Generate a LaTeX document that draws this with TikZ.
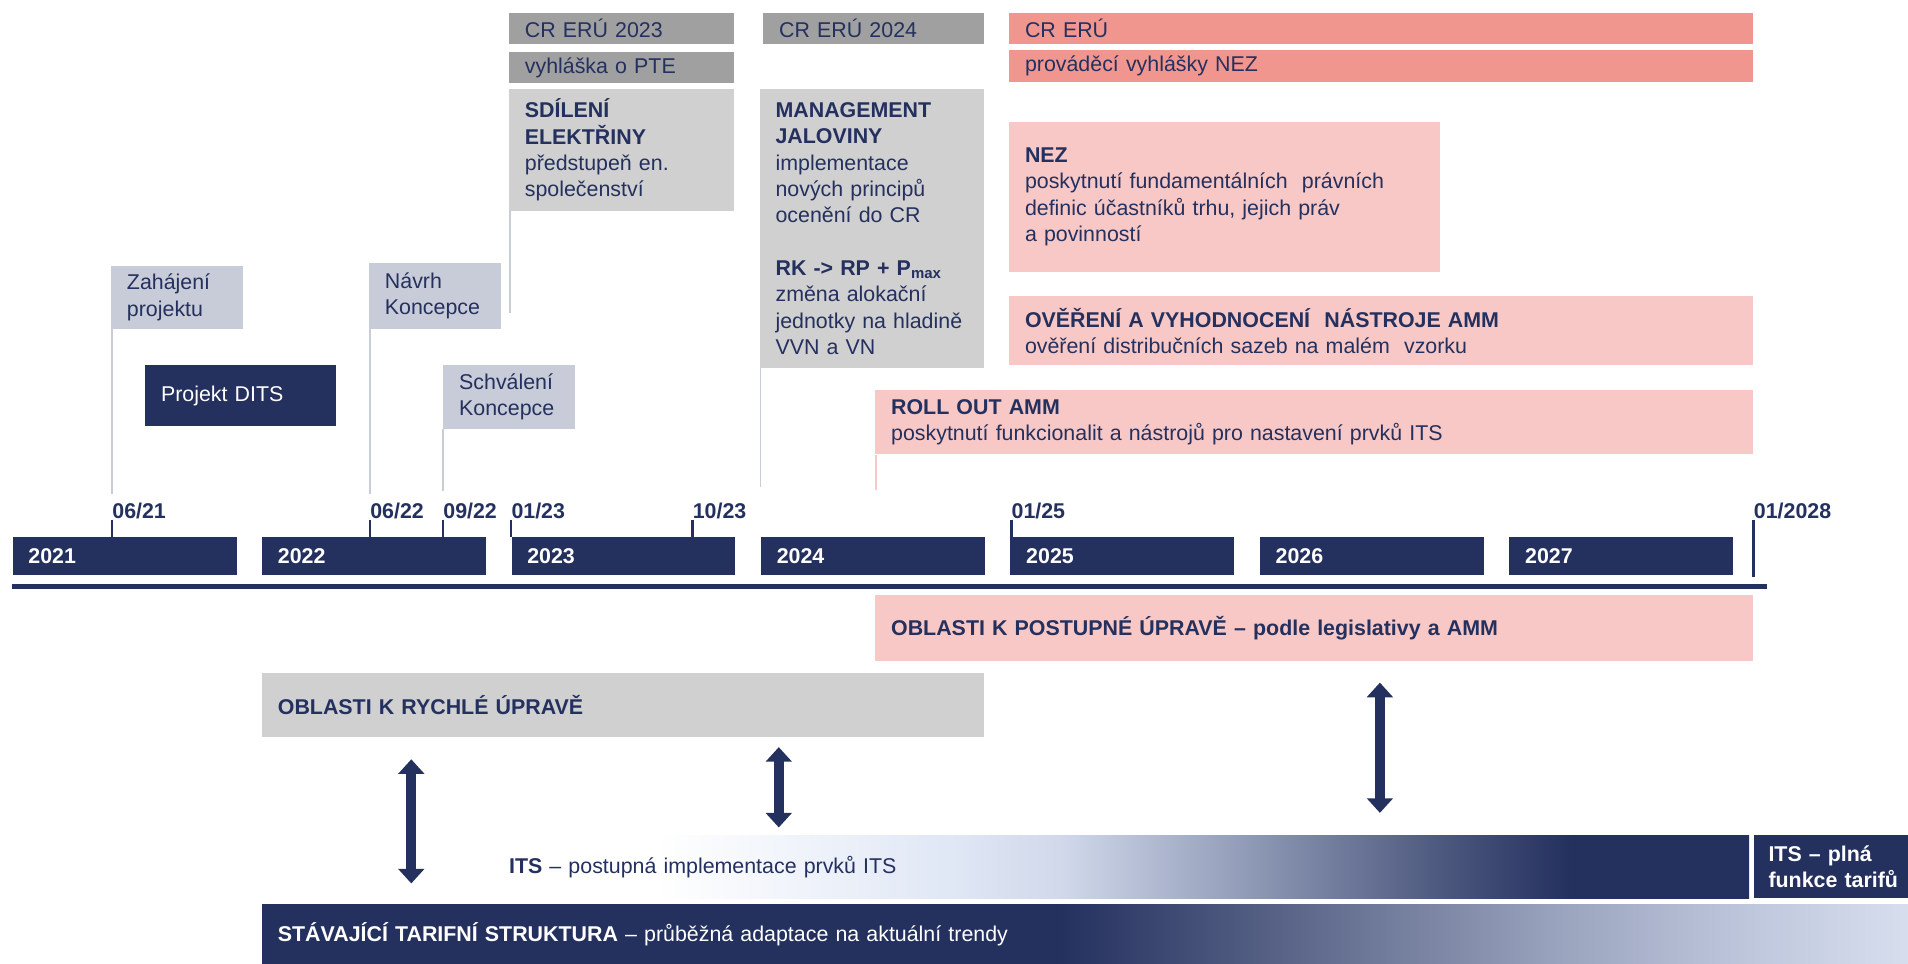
\documentclass[tikz,border=0pt]{standalone}
\usepackage{fontspec}
\setmainfont{Liberation Sans}
\usetikzlibrary{arrows.meta}

\definecolor{tnavy}{RGB}{36,48,94}
\definecolor{tdgrey}{RGB}{160,160,160}
\definecolor{tlgrey}{RGB}{208,208,208}
\definecolor{tbgrey}{RGB}{200,204,216}
\definecolor{tsalmon}{RGB}{240,150,143}
\definecolor{tpink}{RGB}{247,200,198}
\definecolor{tguide}{RGB}{200,204,212}
\definecolor{fadeA}{RGB}{224,231,245}
\definecolor{fadeB}{RGB}{208,216,234}
\definecolor{fadeC}{RGB}{143,154,182}
\definecolor{fadeD}{RGB}{79,90,128}
\definecolor{fadeE}{RGB}{110,120,152}
\definecolor{fadeF}{RGB}{154,164,190}
\definecolor{fadeG}{RGB}{189,198,219}
\definecolor{fadeH}{RGB}{215,222,238}

\pgfdeclarehorizontalshading{itsfade}{100bp}{color(0bp)=(white); color(31.5bp)=(white); color(43.2bp)=(fadeA); color(47.7bp)=(fadeB); color(55.1bp)=(fadeC); color(62.5bp)=(fadeD); color(67.9bp)=(tnavy); color(100bp)=(tnavy)}
\pgfdeclarehorizontalshading{tariffade}{100bp}{color(0bp)=(tnavy); color(49.2bp)=(tnavy); color(58.7bp)=(fadeE); color(64.4bp)=(fadeF); color(70bp)=(fadeG); color(75bp)=(fadeH); color(100bp)=(fadeH)}

\begin{document}
\begin{tikzpicture}[x=0.2mm, y=-0.2mm,
    every node/.style={font=\fontsize{10}{12.3}\selectfont, text=tnavy},
    box/.style={anchor=north west, inner xsep=2.6mm, inner ysep=0pt, align=left},
    erubox/.style={box, fill=tdgrey, minimum height=5.2mm},
    nezbox/.style={box, fill=tsalmon, minimum height=5.2mm, text width=117mm},
    topicbox/.style={box, fill=tlgrey},
    pinkbox/.style={box, fill=tpink},
    milebox/.style={box, fill=tbgrey, text width=16.5mm},
    navybox/.style={box, fill=tnavy, text=white},
    yearbar/.style={navybox, font=\fontsize{10}{12}\selectfont\bfseries, text width=31.6mm, minimum height=6.2mm},
    datelbl/.style={anchor=south west, inner sep=0pt, font=\fontsize{10}{12}\selectfont\bfseries},
    guide/.style={draw=tguide, line width=0.8pt},
    tick/.style={draw=tnavy, line width=1.3pt},
    biarrow/.style={draw=tnavy, line width=4.5pt, {Triangle[width=4.2mm,length=2.4mm]}-{Triangle[width=4.2mm,length=2.4mm]}}]

\useasboundingbox (0,0) rectangle (1568,792);

\node[erubox, text width=31.8mm] (cr23) at (418,10) {CR ERÚ 2023};
\node[erubox, text width=31.8mm] (pte) at (418,42) {vyhláška o PTE};
\node[topicbox, text width=31.8mm, minimum height=20mm] (sdil) at (418,73)
    {\textbf{SDÍLENÍ}\\\textbf{ELEKTŘINY}\\předstupeň en.\\společenství};
\node[erubox, text width=31mm] (cr24) at (627,10) {CR ERÚ 2024};
\node[topicbox, text width=31.6mm, minimum height=45.8mm] (jal) at (624,73)
    {\textbf{MANAGEMENT}\\\textbf{JALOVINY}\\implementace\\nových principů\\ocenění do CR\\[12.3pt]
     \textbf{RK -> RP + P\textsubscript{max}}\\změna alokační\\jednotky na hladině\\VVN a VN};

\node[nezbox] (crn) at (829,10) {CR ERÚ};
\node[nezbox] (vyhl) at (829,41) {prováděcí vyhlášky NEZ};
\node[pinkbox, text width=65.6mm, minimum height=24.6mm] (nez) at (829,100)
    {\textbf{NEZ}\\poskytnutí fundamentálních\ \ právních\\definic účastníků trhu, jejich práv\\a povinností};
\node[pinkbox, text width=117mm, minimum height=11.4mm] (amm) at (829,243)
    {\textbf{OVĚŘENÍ A VYHODNOCENÍ\ \ NÁSTROJE AMM}\\ověření distribučních sazeb na malém\ \ vzorku};
\node[pinkbox, text width=139mm, minimum height=10.6mm] (roll) at (719,320)
    {\textbf{ROLL OUT AMM}\\poskytnutí funkcionalit a nástrojů pro nastavení prvků ITS};

\node[milebox, minimum height=10.4mm] (zah) at (91,218) {Zahájení\\projektu};
\node[navybox, text width=26.2mm, minimum height=10mm] (dits) at (119,300) {Projekt DITS};
\node[milebox, minimum height=10.8mm] (navrh) at (303,216) {Návrh\\Koncepce};
\node[milebox, minimum height=10.4mm] (schv) at (364,300) {Schválení\\Koncepce};

\foreach \yr [count=\i from 0] in {2021,...,2027}
    \node[yearbar] (y\yr) at ({10+205*\i},441) {\yr};

\node[datelbl] (t0621) at (92,427) {06/21};
\node[datelbl] (t0622) at (304,427) {06/22};
\node[datelbl] (t0922) at (364,427) {09/22};
\node[datelbl] (t0123) at (420,427) {01/23};
\node[datelbl] (t1023) at (569,427) {10/23};
\node[datelbl] (t0125) at (831,427) {01/25};
\node[datelbl] (t0128) at (1441,427) {01/2028};

\coordinate (sdilend) at (419,257);
\coordinate (jalend) at (625,400);
\coordinate (rollend) at (720,403);

\draw[guide] ([xshift=0.2mm]zah.south west) -- ([yshift=1.4mm]t0621.north west);
\draw[guide] ([xshift=0.2mm]navrh.south west) -- ([yshift=1.4mm]t0622.north west);
\draw[guide] (schv.south west) -- ([yshift=2mm]t0922.north west);
\draw[guide] ([xshift=0.2mm]sdil.south west) -- (sdilend);
\draw[guide] ([xshift=0.2mm]jal.south west) -- (jalend);
\draw[guide, draw=tpink] ([xshift=0.2mm]roll.south west) -- (rollend);

\draw[tick] (t0621.south west) -- (t0621.south west |- y2021.north);
\draw[tick] (t0622.south west) -- (t0622.south west |- y2022.north);
\draw[tick] (t0922.south west) -- (t0922.south west |- y2022.north);
\draw[tick] (t0123.south west) -- (t0123.south west |- y2023.north);
\draw[tick] (t1023.south west) -- (t1023.south west |- y2023.north);
\draw[tick] (t0125.south west) -- (t0125.south west |- y2025.north);
\draw[tick] (t0128.south west) -- ++(0,47);

\draw[tnavy, line width=2pt] (10,482) -- (1452,482);

\node[pinkbox, text width=139mm, minimum height=10.8mm] (post) at (719,489)
    {\textbf{OBLASTI K POSTUPNÉ ÚPRAVĚ – podle legislativy a AMM}};
\node[topicbox, text width=113.4mm, minimum height=10.4mm] (rych) at (215,553)
    {\textbf{OBLASTI K RYCHLÉ ÚPRAVĚ}};

\node[box, shade, shading=itsfade, text width=201.2mm, minimum height=10.4mm] (its) at (405,686)
    {\textbf{ITS} – postupná implementace prvků ITS};
\node[navybox, inner xsep=2.4mm, text width=20.6mm, minimum height=10.4mm] (itsfull) at (1441,686)
    {\mbox{\textbf{ITS – plná}}\\\mbox{\textbf{funkce tarifů}}};
\node[box, shade, shading=tariffade, text=white, text width=265.4mm, minimum height=9.8mm] (stav) at (215,743)
    {\textbf{STÁVAJÍCÍ TARIFNÍ STRUKTURA} – průběžná adaptace na aktuální trendy};

\coordinate (ar1a) at (338,624);
\coordinate (ar1b) at (338,726);
\coordinate (ar2a) at (640,614);
\coordinate (ar2b) at (640,680);
\coordinate (ar3a) at (1134,561);
\coordinate (ar3b) at (1134,668);
\draw[biarrow] (ar1a) -- (ar1b);
\draw[biarrow] (ar2a) -- (ar2b);
\draw[biarrow] (ar3a) -- (ar3b);

\end{tikzpicture}
\end{document}
